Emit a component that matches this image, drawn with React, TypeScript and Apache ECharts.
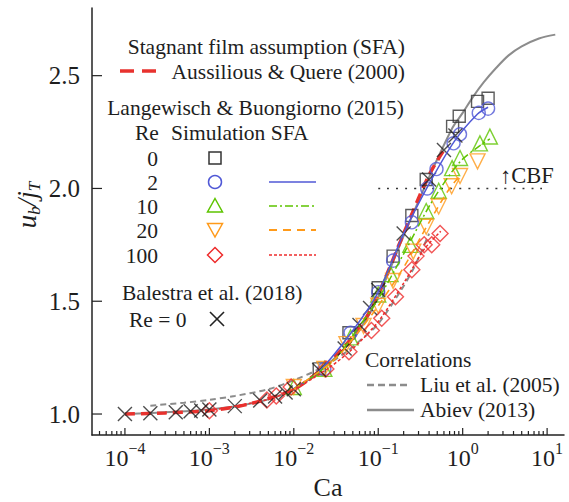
import React, { useEffect, useRef } from "react";
import * as echarts from "echarts";

// ---------- data ----------
const balestraCa = [1e-4, 2e-4, 4e-4, 6e-4, 8e-4, 1e-3, 2e-3, 4e-3, 6e-3, 8e-3, 1e-2, 2e-2, 4e-2, 6e-2, 8e-2, 0.1, 0.2, 0.4, 0.6, 0.82];
const balestraU = [1.0, 1.003, 1.008, 1.012, 1.016, 1.02, 1.035, 1.06, 1.078, 1.095, 1.11, 1.195, 1.29, 1.395, 1.47, 1.55, 1.8, 2.04, 2.17, 2.235];

const re0Ca = [0.02, 0.045, 0.1, 0.15, 0.25, 0.37, 0.76, 0.91, 1.5, 2.0];
const re0U = [1.2, 1.36, 1.56, 1.7, 1.88, 2.04, 2.275, 2.32, 2.386, 2.4];

const re2Ca = [0.023, 0.047, 0.1, 0.15, 0.25, 0.38, 0.49, 0.78, 0.93, 1.55, 2.0];
const re2U = [1.2, 1.36, 1.54, 1.68, 1.85, 2.0, 2.086, 2.2, 2.24, 2.335, 2.354];

const re10Ca = [0.01, 0.023, 0.047, 0.1, 0.14, 0.24, 0.37, 0.52, 0.75, 0.93, 1.6, 2.1];
const re10U = [1.12, 1.2, 1.34, 1.53, 1.62, 1.75, 1.9, 1.99, 2.09, 2.135, 2.2, 2.23];

const re20Ca = [0.01, 0.023, 0.042, 0.067, 0.1, 0.15, 0.26, 0.37, 0.52, 0.74, 0.93, 1.5];
const re20U = [1.12, 1.2, 1.31, 1.39, 1.48, 1.59, 1.72, 1.83, 1.92, 2.01, 2.055, 2.12];

const re100Ca = [0.001, 0.0048, 0.0062, 0.0093, 0.024, 0.045, 0.083, 0.11, 0.16, 0.25, 0.28, 0.35, 0.43, 0.54];
const re100U = [1.015, 1.062, 1.08, 1.12, 1.2, 1.276, 1.37, 1.425, 1.52, 1.64, 1.7, 1.75, 1.75, 1.8];

const sfa2Ca = [0.01, 0.02, 0.05, 0.1, 0.2, 0.4, 0.8, 1.5, 2.0];
const sfa2U = [1.11, 1.19, 1.37, 1.54, 1.8, 2.02, 2.21, 2.33, 2.36];
const sfa10Ca = [0.01, 0.03, 0.06, 0.1, 0.2, 0.4, 0.7, 1.0, 1.6, 2.1];
const sfa10U = [1.11, 1.24, 1.39, 1.51, 1.71, 1.92, 2.06, 2.13, 2.19, 2.22];
const sfa20Ca = [0.01, 0.03, 0.06, 0.1, 0.2, 0.4, 0.7, 0.95];
const sfa20U = [1.11, 1.24, 1.37, 1.48, 1.65, 1.85, 2.0, 2.06];
const sfa100Ca = [0.001, 0.005, 0.01, 0.025, 0.05, 0.1, 0.2, 0.35, 0.55];
const sfa100U = [1.015, 1.065, 1.11, 1.2, 1.29, 1.41, 1.58, 1.73, 1.81];

const aqCa = [1e-4, 3e-4, 1e-3, 3e-3, 1e-2, 2e-2, 4e-2, 0.07, 0.1, 0.2, 0.4, 0.6];
const aqU = [1.0, 1.005, 1.015, 1.045, 1.11, 1.19, 1.3, 1.42, 1.53, 1.8, 2.06, 2.17];

const liuCa = [2e-4, 5e-4, 1e-3, 2e-3, 5e-3, 1e-2, 2e-2, 4e-2, 7e-2, 0.1, 0.18, 0.27, 0.4];
const liuU = [1.037, 1.05, 1.063, 1.08, 1.11, 1.15, 1.2, 1.27, 1.345, 1.4, 1.54, 1.655, 1.8];

const abievCa = [1e-4, 1e-3, 4e-3, 1e-2, 2e-2, 4e-2, 0.06, 0.1, 0.2, 0.4, 0.76, 1.0, 1.32, 1.77, 2.5, 3.5, 5, 8, 12.5];
const abievU = [1.0, 1.02, 1.055, 1.11, 1.19, 1.29, 1.37, 1.52, 1.79, 2.05, 2.27, 2.335, 2.405, 2.47, 2.535, 2.59, 2.63, 2.665, 2.682];

const cbfCa = [0.1, 8.7];
const cbfU = [2.0, 2.0];

const xMajorTicks = [1e-4, 1e-3, 1e-2, 1e-1, 1, 10];
const yMajorTicks = [1.0, 1.5, 2.0, 2.5];

const XMIN = Math.pow(10, -4.39);
const XMAX = Math.pow(10, 1.2);
const YMIN = 0.907;
const YMAX = 2.8;

const FONT = "'Liberation Serif', 'Times New Roman', serif";
const TXT = "#1e1e1e";

const pairs = (xs: number[], ys: number[]) => xs.map((x, i) => [x, ys[i]]);

// minor ticks of a log axis at 2..9 x 10^n
const xMinorTicks: number[] = [];
for (let n = -5; n <= 1; n++) {
  for (let k = 2; k <= 9; k++) {
    const v = k * Math.pow(10, n);
    if (v > XMIN && v < XMAX) xMinorTicks.push(v);
  }
}

const C = {
  sq: "#333333",
  blue: "#5058d6",
  green: "#5ec400",
  orange: "#ff9a1a",
  red: "#ee2c2c",
  x: "#222222",
  gray: "#8c8c8c",
  aq: "#e8322e",
};

function scatter(name: string, data: number[][], symbol: string, size: number, color: string, rotate = 0) {
  return {
    name,
    type: "scatter",
    data,
    symbol,
    symbolSize: size,
    symbolRotate: rotate,
    itemStyle: { color: "none", borderColor: color, borderWidth: 1.4 },
    z: 4,
    silent: true,
  };
}

function line(name: string, data: number[][], color: string, width: number, type: any, z = 3) {
  return {
    name,
    type: "line",
    data,
    symbol: "none",
    showSymbol: false,
    smooth: 0.3,
    lineStyle: { color, width, type },
    z,
    silent: true,
  };
}

function txt(text: string, x: number, y: number, align = "left", size = 21.5) {
  return {
    type: "text",
    x,
    y,
    silent: true,
    style: {
      text,
      fill: TXT,
      fontSize: size,
      fontFamily: FONT,
      textAlign: align,
      align,
      textVerticalAlign: "middle",
      verticalAlign: "middle",
    },
  };
}

function seg(x1: number, y1: number, x2: number, y2: number, stroke: string, lineWidth: number, lineDash?: number[]) {
  return {
    type: "line",
    silent: true,
    shape: { x1, y1, x2, y2 },
    style: { stroke, lineWidth, lineDash },
  };
}

export default function App() {
  const ref = useRef<HTMLDivElement>(null);
  useEffect(() => {
    if (!ref.current) return;
    const chart = echarts.init(ref.current, undefined, { renderer: "svg" });

    const legendGraphics: any[] = [
      txt("Stagnant film assumption (SFA)", 405, 47, "right"),
      seg(120, 71, 163, 71, C.aq, 3.5, [14, 8]),
      txt("Aussilious & Quere (2000)", 405, 72, "right"),
      txt("Langewisch & Buongiorno (2015)", 404, 108, "right"),
      txt("Re", 135, 133),
      txt("Simulation SFA", 171, 133),
      txt("0", 158, 159, "right"),
      txt("2", 158, 183, "right"),
      txt("10", 158, 207, "right"),
      txt("20", 158, 231, "right"),
      txt("100", 158, 256, "right"),
      {
        type: "rect",
        silent: true,
        shape: { x: 209, y: 152, width: 12, height: 12 },
        style: { fill: "none", stroke: C.sq, lineWidth: 1.5 },
      },
      {
        type: "circle",
        silent: true,
        shape: { cx: 215, cy: 182, r: 6.5 },
        style: { fill: "none", stroke: C.blue, lineWidth: 1.5 },
      },
      {
        type: "polygon",
        silent: true,
        shape: { points: [[215, 198.5], [222.5, 212], [207.5, 212]] },
        style: { fill: "none", stroke: C.green, lineWidth: 1.5 },
      },
      {
        type: "polygon",
        silent: true,
        shape: { points: [[207.5, 223.5], [222.5, 223.5], [215, 237]] },
        style: { fill: "none", stroke: C.orange, lineWidth: 1.5 },
      },
      {
        type: "polygon",
        silent: true,
        shape: { points: [[215, 247.5], [222.5, 255], [215, 262.5], [207.5, 255]] },
        style: { fill: "none", stroke: C.red, lineWidth: 1.5 },
      },
      seg(269, 182, 316, 182, C.blue, 1.6),
      seg(269, 206, 316, 206, C.green, 1.6, [8, 3, 2, 3]),
      seg(269, 230, 316, 230, C.orange, 1.8, [8, 6]),
      seg(269, 255, 316, 255, C.red, 1.6, [3, 2]),
      txt("Balestra et al. (2018)", 122, 293),
      txt("Re = 0", 129, 320),
      seg(210, 312, 224, 326, C.x, 1.6),
      seg(224, 312, 210, 326, C.x, 1.6),
      txt("Correlations", 365, 360),
      seg(367, 385, 411, 385, C.gray, 2.5, [7, 4]),
      txt("Liu et al. (2005)", 420, 385),
      seg(367, 410, 414, 410, C.gray, 2.5),
      txt("Abiev (2013)", 420, 410),
      txt("\u2191CBF", 500, 175, "left", 22.5),
      {
        type: "text",
        x: 27,
        y: 205,
        rotation: Math.PI / 2,
        silent: true,
        style: {
          text: "{i|u}{s|b}{i|/j}{s|T}",
          fill: TXT,
          textAlign: "center",
          align: "center",
          textVerticalAlign: "middle",
          verticalAlign: "middle",
          rich: {
            i: { fontFamily: FONT, fontStyle: "italic", fontSize: 27, lineHeight: 32, fill: TXT, color: TXT },
            s: { fontFamily: FONT, fontStyle: "italic", fontSize: 17, lineHeight: 15, verticalAlign: "bottom", fill: TXT, color: TXT },
          },
        },
      },
    ];

    const tickRender = (params: any, api: any) => {
      const kind = api.value(0);
      const v = api.value(1);
      const len = api.value(2);
      if (kind === 0) {
        const p = api.coord([v, YMIN]);
        return {
          type: "line",
          shape: { x1: p[0], y1: p[1], x2: p[0], y2: p[1] - len },
          style: { stroke: "#222", lineWidth: 1.2 },
        };
      }
      const p = api.coord([XMIN, v]);
      return {
        type: "line",
        shape: { x1: p[0], y1: p[1], x2: p[0] + len, y2: p[1] },
        style: { stroke: "#222", lineWidth: 1.2 },
      };
    };

    const tickData = [
      ...xMajorTicks.map((v) => [0, v, 7]),
      ...xMinorTicks.map((v) => [0, v, 4]),
      ...yMajorTicks.map((v) => [1, v, 10]),
    ];

    chart.setOption({
      animation: false,
      backgroundColor: "#ffffff",
      grid: { left: 92, right: 5, top: 8, bottom: 67, containLabel: false, outerBoundsMode: "none" },
      xAxis: {
        type: "log",
        logBase: 10,
        min: XMIN,
        max: XMAX,
        name: "Ca",
        nameLocation: "middle",
        nameGap: 33,
        nameTextStyle: { fontFamily: FONT, fontSize: 26, color: TXT },
        axisLine: { show: true, lineStyle: { color: "#222", width: 1.5 } },
        axisTick: { show: false },
        minorTick: { show: false },
        splitLine: { show: false },
        axisLabel: {
          margin: 5,
          formatter: (v: number) => {
            const e = Math.log10(v);
            const r = Math.round(e);
            if (Math.abs(e - r) > 1e-6) return "";
            return `{b|10}{s|${r < 0 ? "\u2212" : ""}${Math.abs(r)}}`;
          },
          rich: {
            b: { fontFamily: FONT, fontSize: 24, lineHeight: 30, color: TXT, verticalAlign: "bottom" },
            s: { fontFamily: FONT, fontSize: 16, lineHeight: 16, color: TXT, verticalAlign: "top" },
          },
        },
      },
      yAxis: {
        type: "value",
        min: YMIN,
        max: YMAX,
        splitNumber: 4,
        axisLine: { show: true, lineStyle: { color: "#222", width: 1.5 } },
        axisTick: { show: false },
        splitLine: { show: false },
        axisLabel: {
          margin: 12,
          fontFamily: FONT,
          fontSize: 25,
          color: TXT,
          formatter: (v: number) => {
            const r = Math.round(v * 2) / 2;
            if (Math.abs(v - r) > 1e-6) return "";
            return r.toFixed(1);
          },
        },
      },
      graphic: { elements: legendGraphics },
      series: [
        line("Abiev (2013)", pairs(abievCa, abievU), C.gray, 2, "solid", 1),
        line("Liu et al. (2005)", pairs(liuCa, liuU), C.gray, 2, [6, 4], 1),
        line("Aussilious & Quere (2000)", pairs(aqCa, aqU), C.aq, 3.5, [10, 6], 2),
        line("CBF", pairs(cbfCa, cbfU), "#333", 1.5, [2, 7], 2),
        scatter("Re 0", pairs(re0Ca, re0U), "rect", 12, C.sq),
        scatter("Re 2", pairs(re2Ca, re2U), "circle", 13, C.blue),
        scatter("Re 10", pairs(re10Ca, re10U), "triangle", 15, C.green),
        scatter("Re 20", pairs(re20Ca, re20U), "triangle", 15, C.orange, 180),
        scatter("Re 100", pairs(re100Ca, re100U), "diamond", 16, C.red),
        scatter("Balestra", pairs(balestraCa, balestraU), "path://M0,0L10,10M10,0L0,10", 14, C.x),
        line("SFA Re 2", pairs(sfa2Ca, sfa2U), C.blue, 1.5, "solid", 5),
        line("SFA Re 10", pairs(sfa10Ca, sfa10U), C.green, 1.5, [8, 3, 2, 3], 5),
        line("SFA Re 20", pairs(sfa20Ca, sfa20U), C.orange, 1.6, [7, 5], 5),
        line("SFA Re 100", pairs(sfa100Ca, sfa100U), C.red, 1.5, [3, 2], 5),
        {
          name: "ticks",
          type: "custom",
          renderItem: tickRender,
          data: tickData,
          encode: { x: 1, y: 2 },
          silent: true,
          clip: false,
          z: 6,
        },
      ],
    });

    return () => chart.dispose();
  }, []);

  return (
    <div
      ref={ref}
      style={{ position: "fixed", left: 0, top: 0, width: 569, height: 502, background: "#fff" }}
    />
  );
}
